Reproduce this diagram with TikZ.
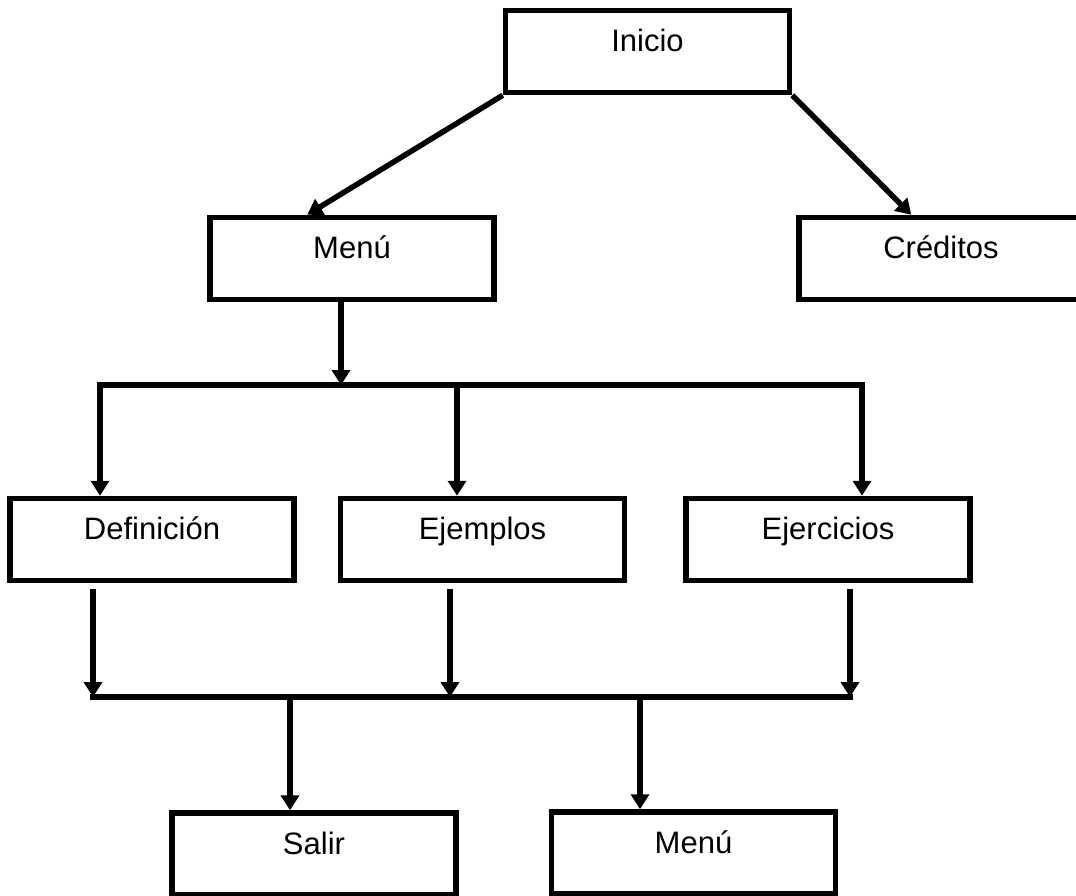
\documentclass[tikz,border=0pt]{standalone}
\usepackage{fontspec}
\setmainfont{Liberation Sans}
\usetikzlibrary{arrows.meta}

\tikzset{
  caja/.style={draw,line width=5.5pt,minimum width=284pt,inner xsep=0pt,inner ysep=0pt,
    text height=41pt,text depth=41pt,font=\fontsize{31}{37}\selectfont},
  linea/.style={line width=5.5pt},
  flecha/.style={linea,-{Triangle[width=18pt,length=15pt]}},
  flechas/.style={linea,{Triangle[width=18pt,length=15pt]}-{Triangle[width=18pt,length=15pt]}}
}

\begin{document}
\begin{tikzpicture}[x=1pt,y=-1pt]
    \useasboundingbox(0,0)rectangle(1076,896);

    \foreach\n/\x/\y/\t in{inicio/647.5/51.5/Inicio,menu/352/258.5/Menú,creditos/941/258.5/Créditos,
      definicion/152/539.5/Definición,ejemplos/482.5/539.5/Ejemplos,ejercicios/828/539.5/Ejercicios,
      salir/314/854/Salir,menudos/693.5/853/Menú}
      \node[caja](\n)at(\x,\y){\t};

    \coordinate(b0)at(341,385);
    \coordinate(b1)at(100,385);
    \coordinate(b2)at(457,385);
    \coordinate(b3)at(862,385);
    \coordinate(c1)at(93,697);
    \coordinate(c2)at(450,697);
    \coordinate(c3)at(850,697);
    \coordinate(s1)at(290,697);
    \coordinate(s2)at(640,697);

    \draw[flecha](inicio.south west)--([xshift=100pt]menu.north west);
    \draw[flecha](inicio.south east)--([xshift=115pt]creditos.north west);
    \draw[flecha](b0|-menu.south)--(b0);

    \draw[flechas](b1|-definicion.north)--(b1)--(b3)--(b3|-ejercicios.north);
    \draw[flecha](b2)--(b2|-ejemplos.north);

    \foreach\n/\c in{definicion/c1,ejemplos/c2,ejercicios/c3}\draw[flecha,shorten <=6pt](\c|-\n.south)--(\c);
    \draw[linea]([xshift=-3pt]c1)--([xshift=3pt]c3);

    \draw[flecha](s1)--(s1|-salir.north);
    \draw[flecha](s2)--(s2|-menudos.north);
  \end{tikzpicture}
\end{document}
